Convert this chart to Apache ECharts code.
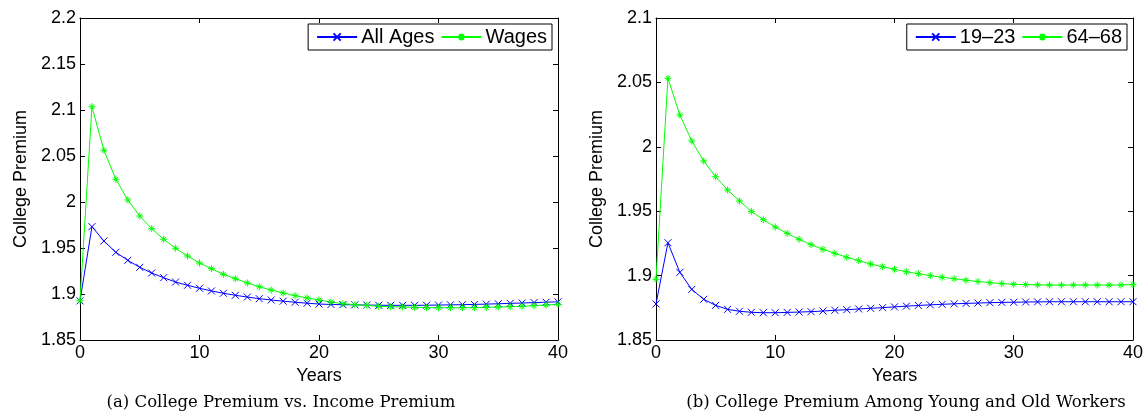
<!DOCTYPE html>
<html>
<head>
<meta charset="utf-8">
<script src="https://cdn.jsdelivr.net/npm/echarts@6/dist/echarts.min.js"></script>
<style>
html,body{margin:0;padding:0;background:#fff;}
#c{width:1146px;height:417px;}
</style>
</head>
<body>
<div id="c"></div>
<script>
const years = [0,1,2,3,4,5,6,7,8,9,10,11,12,13,14,15,16,17,18,19,20,21,22,23,24,25,26,27,28,29,30,31,32,33,34,35,36,37,38,39,40];

const allAges = [1.8925,1.9732,1.9576,1.9453,1.9366,1.9290,1.9228,1.9177,1.9130,1.9095,1.9062,1.9033,1.9008,1.8986,1.8967,1.8949,1.8935,1.8922,1.8910,1.8900,1.8891,1.8886,1.8884,1.8882,1.8880,1.8878,1.8877,1.8877,1.8877,1.8878,1.8880,1.8882,1.8884,1.8887,1.8890,1.8894,1.8898,1.8902,1.8907,1.8911,1.8915];
const wages = [1.8927,2.1036,2.0562,2.0247,2.0022,1.9848,1.9710,1.9595,1.9497,1.9413,1.9337,1.9275,1.9214,1.9166,1.9120,1.9079,1.9043,1.9011,1.8982,1.8957,1.8935,1.8913,1.8895,1.8884,1.8877,1.8866,1.8862,1.8859,1.8855,1.8851,1.8851,1.8851,1.8851,1.8851,1.8855,1.8859,1.8862,1.8866,1.8873,1.8880,1.8888];

const young = [1.8780,1.9255,1.9025,1.8893,1.8816,1.8769,1.8738,1.8723,1.8715,1.8712,1.8712,1.8714,1.8717,1.8720,1.8725,1.8731,1.8735,1.8741,1.8746,1.8751,1.8757,1.8763,1.8768,1.8773,1.8777,1.8781,1.8784,1.8787,1.8790,1.8792,1.8793,1.8795,1.8796,1.8797,1.8797,1.8797,1.8797,1.8797,1.8797,1.8797,1.8797];
const old = [1.8971,2.0532,2.0247,2.0045,1.9890,1.9768,1.9665,1.9579,1.9499,1.9434,1.9377,1.9328,1.9282,1.9240,1.9204,1.9173,1.9142,1.9116,1.9090,1.9069,1.9049,1.9030,1.9015,1.9000,1.8987,1.8976,1.8964,1.8954,1.8945,1.8938,1.8933,1.8930,1.8928,1.8927,1.8927,1.8927,1.8927,1.8927,1.8927,1.8927,1.8930];

const seriesNamesA = ['All Ages', 'Wages'];
const seriesNamesB = ['19\u201323', '64\u201368'];
const xLabel = 'Years';
const yLabel = 'College Premium';
const captionA = '(a) College Premium vs. Income Premium';
const captionB = '(b) College Premium Among Young and Old Workers';

const BLUE = '#0000ff', GREEN = '#00ff00';
const CROSS = 'path://M0,0L10,10M10,0L0,10';
const STAR = 'path://M5,0L5,10M0,5L10,5M1.6,1.6L8.4,8.4M8.4,1.6L1.6,8.4';
const SANS = 'Liberation Sans, Arial, sans-serif';

function pairs(ys){ return years.map((x,i)=>[x, ys[i]]); }

function xAx(grid, pos){
  return {
    type:'value', gridIndex:grid, position:pos, min:0, max:40, interval:10,
    axisLine:{show:true, onZero:false, lineStyle:{color:'#000', width:1}},
    axisTick:{show:true, inside:true, length:5, lineStyle:{color:'#000'}},
    axisLabel:{show:pos==='bottom', color:'#000', fontSize:18, fontFamily:SANS, margin:4},
    splitLine:{show:false},
    name: pos==='bottom' ? xLabel : '', nameLocation:'middle', nameGap:23,
    nameTextStyle:{color:'#000', fontSize:18, fontFamily:SANS}
  };
}
function yAx(grid, pos, max){
  return {
    type:'value', gridIndex:grid, position:pos, min:1.85, max:max, interval:0.05,
    axisLine:{show:true, onZero:false, lineStyle:{color:'#000', width:1}},
    axisTick:{show:true, inside:true, length:5, lineStyle:{color:'#000'}},
    axisLabel:{show:pos==='left', color:'#000', fontSize:18, fontFamily:SANS, margin:4},
    splitLine:{show:false},
    name: pos==='left' ? yLabel : '', nameLocation:'middle', nameRotate:90, nameGap:50,
    nameTextStyle:{color:'#000', fontSize:18, fontFamily:SANS}
  };
}
function ser(name, data, color, sym, xi, yi){
  return {
    name:name, type:'line', xAxisIndex:xi, yAxisIndex:yi, data:pairs(data),
    symbol:sym, symbolSize:7, showSymbol:true,
    lineStyle:{color:color, width:1},
    itemStyle:{color:color, borderColor:color, borderWidth:1},
    color:color, animation:false
  };
}
function legend(names, right){
  return {
    data:names, right:right, top:24, orient:'horizontal',
    itemWidth:40, itemHeight:9, itemGap:6,
    textStyle:{color:'#000', fontSize:20, fontFamily:SANS, padding:[0,0,0,-1]},
    borderColor:'#000', borderWidth:1, backgroundColor:'#fff',
    padding:[3,5,3,8]
  };
}

const chart = echarts.init(document.getElementById('c'), null, {renderer:'canvas'});
chart.setOption({
  backgroundColor:'#fff',
  animation:false,
  grid:[
    {left:80, top:18, width:478, height:322},
    {left:656, top:18, width:477, height:322}
  ],
  xAxis:[xAx(0,'bottom'), xAx(0,'top'), xAx(1,'bottom'), xAx(1,'top')],
  yAxis:[yAx(0,'left',2.2), yAx(0,'right',2.2), yAx(1,'left',2.1), yAx(1,'right',2.1)],
  legend:[legend(seriesNamesA, 1146-552), legend(seriesNamesB, 1146-1127)],
  series:[
    ser(seriesNamesA[0], allAges, BLUE, CROSS, 0, 0),
    ser(seriesNamesA[1], wages, GREEN, STAR, 0, 0),
    ser(seriesNamesB[0], young, BLUE, CROSS, 2, 2),
    ser(seriesNamesB[1], old, GREEN, STAR, 2, 2)
  ],
  graphic:[
    {type:'text', x:281, y:403, style:{text:captionA, fill:'#000', font:'16.5px "DejaVu Serif"', textAlign:'center', textVerticalAlign:'middle'}},
    {type:'text', x:906, y:403, style:{text:captionB, fill:'#000', font:'16.5px "DejaVu Serif"', textAlign:'center', textVerticalAlign:'middle'}}
  ]
});
</script>
</body>
</html>
